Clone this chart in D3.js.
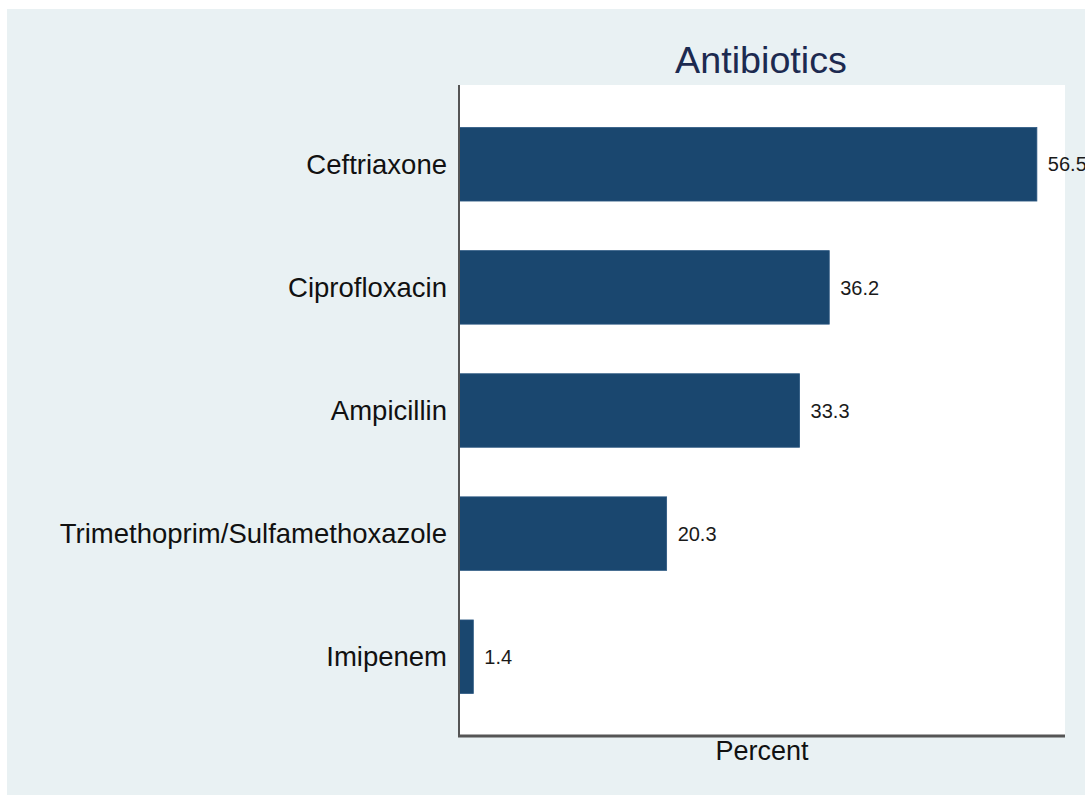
<!DOCTYPE html>
<html>
<head>
<meta charset="utf-8">
<script src="https://cdn.jsdelivr.net/npm/d3@7"></script>
<style>
  html, body { margin: 0; padding: 0; background: #ffffff; }
  svg { display: block; font-family: "Liberation Sans", Arial, sans-serif; }
</style>
</head>
<body>
<div id="chart"></div>
<script>
const drugs = [
  "Ceftriaxone",
  "Ciprofloxacin",
  "Ampicillin",
  "Trimethoprim/Sulfamethoxazole",
  "Imipenem",
];
const percents = [56.5, 36.2, 33.3, 20.3, 1.4];
const xMax = 59.25;

const width = 1085;
const height = 795;
const plot = { left: 459, right: 1065, top: 85, bottom: 736 };

const rows = drugs.map((name, i) => ({ name: name, value: percents[i] }));

const svg = d3
  .select("#chart")
  .append("svg")
  .attr("width", width)
  .attr("height", height);

// fond gris-bleu (style Stata)
svg
  .append("rect")
  .attr("x", 7)
  .attr("y", 9)
  .attr("width", width - 7)
  .attr("height", height - 9)
  .attr("fill", "#e9f1f3");

svg
  .append("rect")
  .attr("x", plot.left)
  .attr("y", plot.top)
  .attr("width", plot.right - plot.left)
  .attr("height", plot.bottom - plot.top)
  .attr("fill", "#ffffff");

const x = d3.scaleLinear().domain([0, xMax]).range([plot.left, plot.right]);

const y = d3
  .scaleBand()
  .domain(drugs)
  .range([plot.top, plot.bottom])
  .paddingInner(0.403)
  .paddingOuter(0.3455);

// barres
svg
  .selectAll("rect.bar")
  .data(rows)
  .enter()
  .append("rect")
  .attr("class", "bar")
  .attr("x", x(0))
  .attr("y", (d) => y(d.name))
  .attr("width", (d) => x(d.value) - x(0))
  .attr("height", y.bandwidth())
  .attr("fill", "#1a476f")
  .attr("stroke", "#2a5680")
  .attr("stroke-width", 0.8);

// valeurs au bout des barres
svg
  .selectAll("text.value")
  .data(rows)
  .enter()
  .append("text")
  .attr("class", "value")
  .attr("x", (d) => x(d.value) + 11)
  .attr("y", (d) => y(d.name) + y.bandwidth() / 2)
  .attr("dy", "0.36em")
  .style("font-size", "20px")
  .style("fill", "#1a1a1a")
  .text((d) => d.value.toFixed(1));

// noms des antibiotiques
svg
  .selectAll("text.cat")
  .data(rows)
  .enter()
  .append("text")
  .attr("class", "cat")
  .attr("x", plot.left - 12)
  .attr("y", (d) => y(d.name) + y.bandwidth() / 2)
  .attr("dy", "0.34em")
  .attr("text-anchor", "end")
  .style("font-size", "27.5px")
  .style("fill", "#111111")
  .text((d) => d.name);

// axes
svg
  .append("line")
  .attr("x1", plot.left)
  .attr("x2", plot.left)
  .attr("y1", plot.top)
  .attr("y2", plot.bottom)
  .attr("stroke", "#555555")
  .attr("stroke-width", 2);

svg
  .append("line")
  .attr("x1", plot.left - 1)
  .attr("x2", plot.right)
  .attr("y1", plot.bottom)
  .attr("y2", plot.bottom)
  .attr("stroke", "#555555")
  .attr("stroke-width", 3);

svg
  .append("text")
  .attr("x", (plot.left + plot.right) / 2)
  .attr("y", 760)
  .attr("text-anchor", "middle")
  .style("font-size", "27px")
  .style("fill", "#111111")
  .text("Percent");

svg
  .append("text")
  .attr("x", 761)
  .attr("y", 73)
  .attr("text-anchor", "middle")
  .style("font-size", "37.7px")
  .style("fill", "#1c2a50")
  .text("Antibiotics");
</script>
</body>
</html>
